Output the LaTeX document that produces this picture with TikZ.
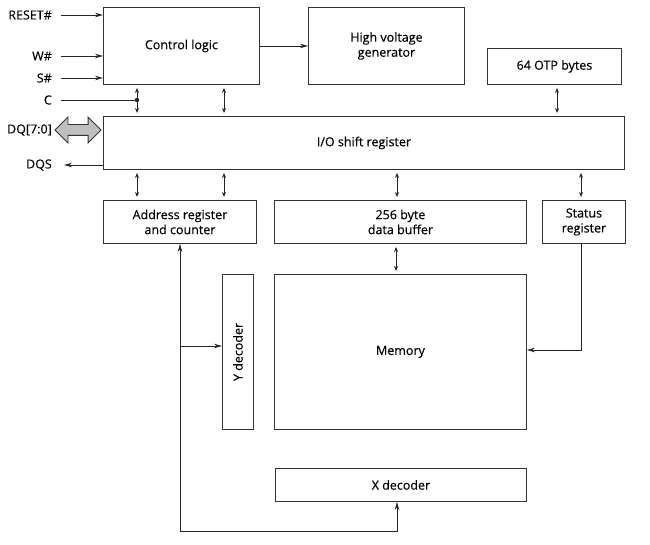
\documentclass[tikz,border=0pt]{standalone}
\usepackage{fontspec}
\setmainfont{Open Sans}
\newfontfamily\medfont{Open Sans}[UprightFeatures={FakeBold=0.35}]
\usetikzlibrary{arrows.meta,shapes.arrows}
\tikzset{blk/.style = {draw=black!80, line width=0.9pt, anchor=north west, inner sep=0pt, align=center, font=\fontsize{12.5}{15}\medfont},
           lbl/.style = {anchor=east, inner sep=0pt, font=\fontsize{12.5}{15}\medfont},
           sig/.style = {black!85, line width=0.8pt, -{Stealth[length=8pt,width=4.5pt]}},
           bus/.style = {black!85, line width=0.8pt, {Stealth[length=5pt,width=4pt]}-{Stealth[length=5pt,width=4pt]}}}

\begin{document}
\begin{tikzpicture}[x=1pt, y=-1pt]
    \useasboundingbox (0,0) rectangle (650,545);
    % blocks
    \node[blk, minimum width=156pt, minimum height=77pt] (ctrl) at (103,7) {Control logic};
    \node[blk, minimum width=156pt, minimum height=77pt] (hv) at (308,7) {High voltage\\generator};
    \node[blk, minimum width=134pt, minimum height=36pt] (otp) at (487,48) {64 OTP bytes};
    \node[blk, minimum width=521pt, minimum height=53pt] (io) at (103,116) {I/O shift register};
    \node[blk, minimum width=153pt, minimum height=43pt] (addr) at (103,200) {Address register\\and counter};
    \node[blk, minimum width=252pt, minimum height=43pt] (buf) at (274,200) {256 byte\\data buffer};
    \node[blk, minimum width=83pt, minimum height=43pt] (stat) at (542,200) {Status\\register};
    \node[blk, minimum width=31pt, minimum height=155pt] (ydec) at (222,274) {};
    \node[rotate=90, font=\fontsize{12.5}{15}\medfont] at (ydec.center) {Y decoder};
    \node[blk, minimum width=252pt, minimum height=155pt] (mem) at (274,274) {Memory};
    \node[blk, minimum width=251pt, minimum height=33pt] (xdec) at (275,468) {X decoder};
    % pins
    \node[lbl] (reset) at (52,15) {RESET\#};
    \node[lbl] (w) at (52,56) {W\#};
    \node[lbl] (s) at (52,78) {S\#};
    \node[lbl] (c) at (52,100) {C};
    \node[lbl] (dql) at (52,130) {DQ[7:0]};
    \node[lbl] (dqs) at (52,165) {DQS};
    \node[double arrow, draw=black!80, fill=black!25, line width=0.8pt, inner sep=5pt,
          minimum width=25pt, minimum height=46pt, double arrow head extend=7.5pt] (dq) at (78,130) {};
    \coordinate (cdot) at (137,100);
    \coordinate (yfork) at (180,346);
    \coordinate (xcorner) at (180,531);
    \coordinate (scorner) at (581,350);
    \draw[sig, shorten <=9pt] (reset.east) -- (reset.east -| ctrl.west);
    \draw[sig, shorten <=9pt] (w.east) -- (w.east -| ctrl.west);
    \draw[sig, shorten <=9pt] (s.east) -- (s.east -| ctrl.west);
    \draw[black!85, line width=0.8pt, shorten <=9pt] (c.east) -- (cdot);
    \fill[black!85] (cdot) circle (2.2pt);
    \draw[sig, shorten >=12pt] (io.west |- dqs) -- (dqs.east);
    \draw[sig] (ctrl.east) -- (hv.west);
    % buses to the I/O shift register
    \draw[bus, shorten <=3pt, shorten >=3pt] (cdot |- ctrl.south) -- (cdot |- io.north);
    \draw[bus, shorten <=3pt, shorten >=3pt] (224,0 |- ctrl.south) -- (224,0 |- io.north);
    \draw[bus, shorten <=3pt, shorten >=3pt] (557,0 |- otp.south) -- (557,0 |- io.north);
    \draw[bus, shorten <=3pt, shorten >=3pt] (137,0 |- io.south) -- (137,0 |- addr.north);
    \draw[bus, shorten <=3pt, shorten >=3pt] (224,0 |- io.south) -- (224,0 |- addr.north);
    \draw[bus, shorten <=3pt, shorten >=3pt] (397,0 |- io.south) -- (397,0 |- buf.north);
    \draw[bus, shorten <=3pt, shorten >=3pt] (581,0 |- io.south) -- (581,0 |- stat.north);
    \draw[bus, shorten <=3pt, shorten >=3pt] (396,0 |- buf.south) -- (396,0 |- mem.north);
    % address and status paths
    \draw[sig] (xcorner) -- (xcorner |- addr.south);
    \draw[sig] (yfork) -- (yfork -| ydec.west);
    \draw[sig] (xcorner) -- (397,531) -- (397,0 |- xdec.south);
    \draw[sig] (scorner |- stat.south) -- (scorner) -- (scorner -| mem.east);
\end{tikzpicture}
\end{document}
